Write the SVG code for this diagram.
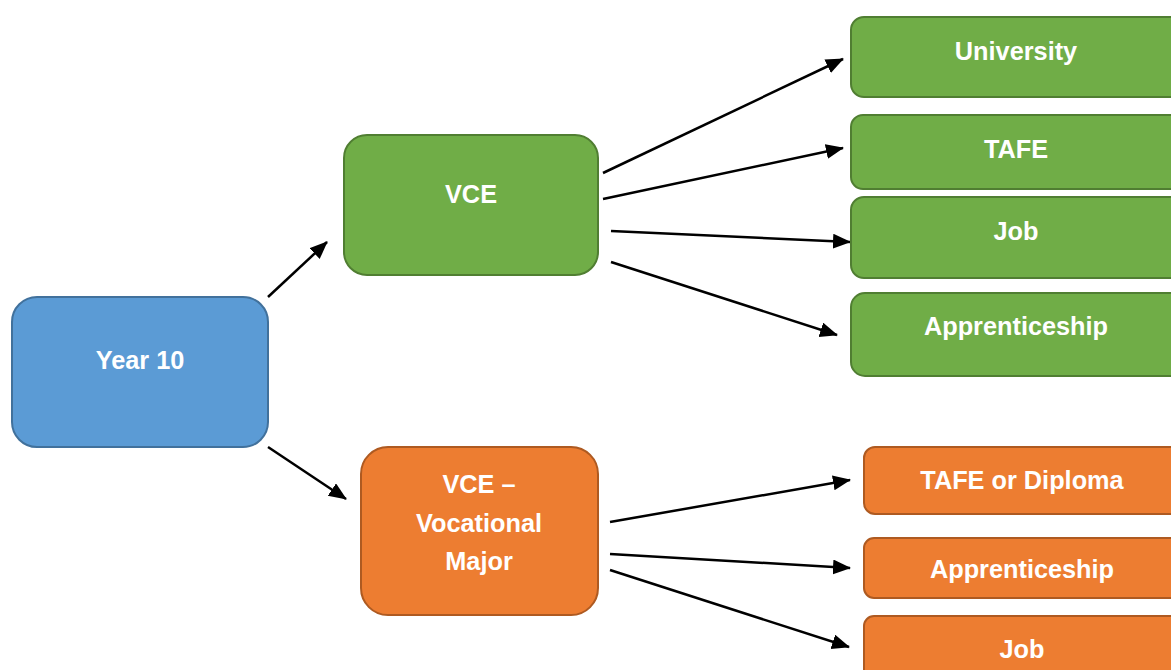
<svg xmlns="http://www.w3.org/2000/svg" width="1171" height="670" viewBox="0 0 1171 670">
<defs>
<style>
.t{font-family:"Liberation Sans",Arial,sans-serif;font-weight:bold;font-size:25.3px;fill:#ffffff;text-anchor:middle}
.blue{fill:#5B9BD5;stroke:#41719C;stroke-width:2}
.green{fill:#70AD47;stroke:#507E32;stroke-width:2}
.orange{fill:#ED7D31;stroke:#AE5A21;stroke-width:2}
.c{stroke:#000000;stroke-width:2.5;fill:none;marker-end:url(#ah)}
</style>
<marker id="ah" markerUnits="userSpaceOnUse" markerWidth="18" markerHeight="16" refX="17" refY="7.5" orient="auto">
<path d="M0,0 L18,7.5 L0,15 z" fill="#000000"/>
</marker>
</defs>
<rect width="1171" height="670" fill="#ffffff"/>
<g id="connectors">
<line class="c" x1="268" y1="297" x2="327" y2="242"/>
<line class="c" x1="268" y1="447" x2="346" y2="499"/>
<line class="c" x1="603" y1="173" x2="843" y2="59"/>
<line class="c" x1="603" y1="199" x2="843" y2="148"/>
<line class="c" x1="611" y1="231" x2="850" y2="242"/>
<line class="c" x1="611" y1="262" x2="837" y2="335"/>
<line class="c" x1="610" y1="522" x2="850" y2="480"/>
<line class="c" x1="610" y1="554" x2="850" y2="568"/>
<line class="c" x1="610" y1="570" x2="849" y2="647"/>
</g>
<g id="year10">
<rect class="blue" x="12" y="297" width="256" height="150" rx="25"/>
<text class="t" x="140" y="369">Year 10</text>
</g>
<g id="vce">
<rect class="green" x="344" y="135" width="254" height="140" rx="23"/>
<text class="t" x="471" y="203">VCE</text>
</g>
<g id="vcevm">
<rect class="orange" x="361" y="447" width="237" height="168" rx="27"/>
<text class="t" x="479" y="493">VCE –</text>
<text class="t" x="479" y="532">Vocational</text>
<text class="t" x="479" y="570">Major</text>
</g>
<g id="university">
<rect class="green" x="851" y="17" width="340" height="80" rx="13"/>
<text class="t" x="1016" y="60">University</text>
</g>
<g id="tafe">
<rect class="green" x="851" y="115" width="340" height="74" rx="12"/>
<text class="t" x="1016" y="158">TAFE</text>
</g>
<g id="job1">
<rect class="green" x="851" y="197" width="340" height="81" rx="13"/>
<text class="t" x="1016" y="240">Job</text>
</g>
<g id="apprenticeship1">
<rect class="green" x="851" y="293" width="340" height="83" rx="14"/>
<text class="t" x="1016" y="335">Apprenticeship</text>
</g>
<g id="tafediploma">
<rect class="orange" x="864" y="447" width="330" height="67" rx="11"/>
<text class="t" x="1022" y="489">TAFE or Diploma</text>
</g>
<g id="apprenticeship2">
<rect class="orange" x="864" y="538" width="330" height="60" rx="10"/>
<text class="t" x="1022" y="578">Apprenticeship</text>
</g>
<g id="job2">
<rect class="orange" x="864" y="616" width="330" height="70" rx="10"/>
<text class="t" x="1022" y="658">Job</text>
</g>
</svg>
